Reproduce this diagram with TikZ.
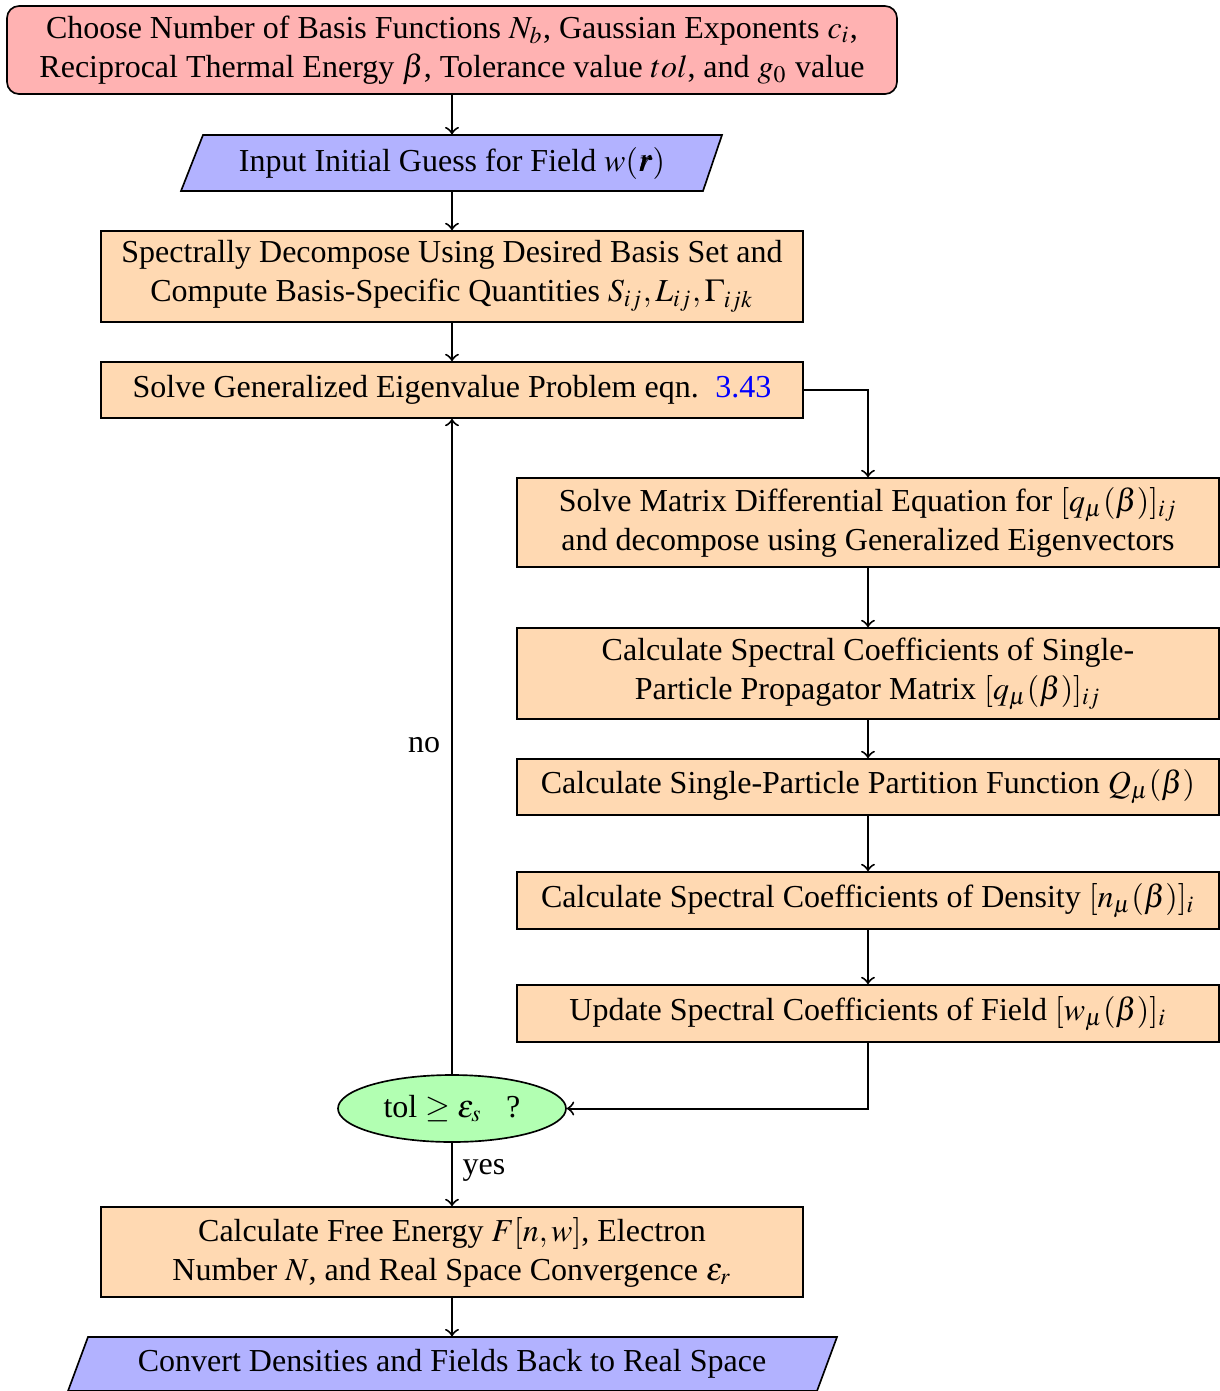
\documentclass[tikz,border=0pt]{standalone}
\usepackage{mathptmx}
\usepackage{bm}
\usepackage{fontspec}
\setmainfont{Liberation Serif}
\usetikzlibrary{shapes.geometric,calc}
\begin{document}
\begin{tikzpicture}[x=0.3pt,y=-0.3pt,
  font=\fontsize{9.6}{11.7}\selectfont,
  box/.style={draw, fill=orange!30, minimum width=210.6pt, align=center, inner sep=0pt, line width=0.5pt},
  conn/.style={draw, ->, line width=0.6pt},
  lbl/.style={inner sep=0pt}]
\useasboundingbox (0,0) rectangle (1220,1391);
% start
\node[draw, fill=red!30, rounded corners=3.6pt, minimum width=267pt, minimum height=26.4pt, align=center, inner sep=0pt, line width=0.5pt] (start) at (452,50)
 {Choose Number of Basis Functions $N_b$, Gaussian Exponents $c_i$,\\ Reciprocal Thermal Energy $\beta$, Tolerance value $tol$, and $g_0$ value};
% input parallelogram
\filldraw[fill=blue!30, line width=0.5pt] (203,135) -- (722,135) -- (703,191) -- (181,191) -- cycle;
\node[minimum height=16.8pt, inner sep=0pt] (input) at (452,163) {Input Initial Guess for Field $w(\bm{r})$};
\node[box, minimum height=27.3pt] (spec) at (452,276.5)
 {Spectrally Decompose Using Desired Basis Set and\\ Compute Basis-Specific Quantities $S_{ij}, L_{ij}, \Gamma_{ijk}$};
\node[box, minimum height=16.8pt] (solve) at (452,390)
 {Solve Generalized Eigenvalue Problem eqn.\hspace{5pt}\textcolor{blue}{3.43}};
\node[box, minimum height=26.7pt] (mat) at (868,522.5)
 {Solve Matrix Differential Equation for $[q_\mu(\beta)]_{ij}$\\ and decompose using Generalized Eigenvectors};
\node[box, minimum height=27.3pt] (calc) at (868,673.5)
 {Calculate Spectral Coefficients of Single-\\Particle Propagator Matrix $[q_\mu(\beta)]_{ij}$};
\node[box, minimum height=16.8pt] (part) at (868,787)
 {Calculate Single-Particle Partition Function $Q_\mu(\beta)$};
\node[box, minimum height=17.1pt] (dens) at (868,900.5)
 {Calculate Spectral Coefficients of Density $[n_\mu(\beta)]_i$};
\node[box, minimum height=17.1pt] (upd) at (868,1013.5)
 {Update Spectral Coefficients of Field $[w_\mu(\beta)]_i$};
\node[draw, ellipse, fill=green!30, minimum width=68.4pt, minimum height=20.1pt, inner sep=0pt, line width=0.5pt] (test) at (452,1108.5)
 {tol $\geq \varepsilon_s$\ \ \ ?};
\node[box, minimum height=27pt] (free) at (452,1252)
 {Calculate Free Energy $F[n,w]$, Electron\\ Number $N$, and Real Space Convergence $\varepsilon_r$};
\filldraw[fill=blue!30, line width=0.5pt] (88,1337) -- (837,1337) -- (817,1391) -- (68,1391) -- cycle;
\node[minimum height=16.2pt, inner sep=0pt] (conv) at (452,1364) {Convert Densities and Fields Back to Real Space};
% connectors
\draw[conn] (start) -- (input);
\draw[conn] (input) -- (spec);
\draw[conn] (spec) -- (solve);
\draw[conn] (solve.east) -| (mat.north);
\draw[conn] (mat) -- (calc);
\draw[conn] (calc) -- (part);
\draw[conn] (part) -- (dens);
\draw[conn] (dens) -- (upd);
\draw[conn] (upd.south) |- (test.east);
\draw[conn] (test.north) -- (solve.south);
\draw[conn] (test.south) -- (free.north);
\draw[conn] (free) -- (conv);
\node[lbl] (no) at (424,745) {no};
\node[lbl] (yes) at (484,1170) {yes};
\end{tikzpicture}
\end{document}
